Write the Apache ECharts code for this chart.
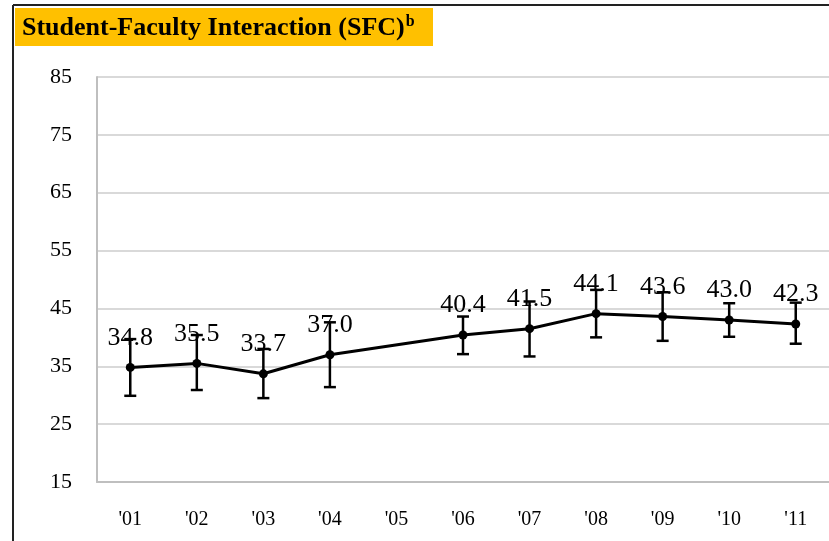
<!DOCTYPE html>
<html><head><meta charset="utf-8">
<script src="https://cdn.jsdelivr.net/npm/echarts@6/dist/echarts.min.js"></script>
<style>html,body{margin:0;padding:0;background:#fff}#c{width:829px;height:541px}</style>
</head><body><div id="c"></div>
<script>
var categories = ["'01","'02","'03","'04","'05","'06","'07","'08","'09","'10","'11"];
var values = [34.8, 35.5, 33.7, 37.0, null, 40.4, 41.5, 44.1, 43.6, 43.0, 42.3];
var errLow = [29.9, 30.9, 29.5, 31.4, null, 37.1, 36.7, 40.0, 39.4, 40.1, 38.9];
var errHigh = [39.7, 40.4, 38.0, 42.6, null, 43.6, 46.2, 48.2, 47.8, 45.9, 46.0];
var yTicks = [15, 25, 35, 45, 55, 65, 75, 85];
var titleText = 'Student-Faculty Interaction (SFC)';
var titleSup = 'b';

var errData = [];
for (var i = 0; i < categories.length; i++) {
  if (values[i] != null) errData.push([i, errLow[i], errHigh[i]]);
}
var chart = echarts.init(document.getElementById('c'));
var serif = '"Liberation Serif","DejaVu Serif",serif';
chart.setOption({
  animation: false,
  backgroundColor: '#fff',
  grid: { left: 97, top: 77, width: 737, height: 405, containLabel: false },
  graphic: [
    { type: 'line', shape: { x1: 13, y1: 5, x2: 829, y2: 5 }, style: { stroke: '#222', lineWidth: 2 } },
    { type: 'line', shape: { x1: 13, y1: 5, x2: 13, y2: 541 }, style: { stroke: '#222', lineWidth: 2 } },
    { type: 'rect', shape: { x: 15, y: 8, width: 418, height: 38 }, style: { fill: '#FFC000' } },
    { type: 'text', x: 22, y: 28, style: {
        text: '{a|' + titleText + '}{b|' + titleSup + '}',
        verticalAlign: 'middle',
        rich: {
          a: { fontFamily: serif, fontWeight: 'bold', fontSize: 26, fill: '#000' },
          b: { fontFamily: serif, fontWeight: 'bold', fontSize: 16, fill: '#000', verticalAlign: 'top', padding: [0,0,12,1] }
        }
      } }
  ],
  xAxis: {
    type: 'category', data: categories, boundaryGap: true,
    axisLine: { lineStyle: { color: '#bfbfbf', width: 2 } },
    axisTick: { show: false },
    axisLabel: { color: '#000', fontFamily: serif, fontSize: 20, margin: 28 },
    splitLine: { show: false }
  },
  yAxis: {
    type: 'value', min: 15, max: 85, interval: 10,
    axisLine: { show: true, lineStyle: { color: '#bfbfbf', width: 2 } },
    axisTick: { show: false },
    axisLabel: { color: '#000', fontFamily: serif, fontSize: 22, margin: 25,
      customValues: yTicks },
    splitLine: { show: true, lineStyle: { color: '#d9d9d9', width: 2 } }
  },
  series: [
    {
      type: 'custom', data: errData, z: 3,
      renderItem: function (params, api) {
        var x = api.value(0);
        var lo = api.coord([x, api.value(1)]);
        var hi = api.coord([x, api.value(2)]);
        var hw = 6;
        var st = { stroke: '#000', lineWidth: 2.5 };
        return { type: 'group', children: [
          { type: 'line', shape: { x1: lo[0], y1: lo[1], x2: hi[0], y2: hi[1] }, style: st },
          { type: 'line', shape: { x1: lo[0]-hw, y1: lo[1], x2: lo[0]+hw, y2: lo[1] }, style: st },
          { type: 'line', shape: { x1: hi[0]-hw, y1: hi[1], x2: hi[0]+hw, y2: hi[1] }, style: st }
        ]};
      }
    },
    {
      type: 'line', data: values, connectNulls: true, z: 4,
      symbol: 'circle', symbolSize: 9,
      lineStyle: { color: '#000', width: 3 },
      itemStyle: { color: '#000' },
      label: { show: true, position: 'top', distance: 12, color: '#000',
        fontFamily: serif, fontSize: 26,
        formatter: function (p) { return p.value == null ? '' : p.value.toFixed(1); } }
    }
  ]
});
</script></body></html>
